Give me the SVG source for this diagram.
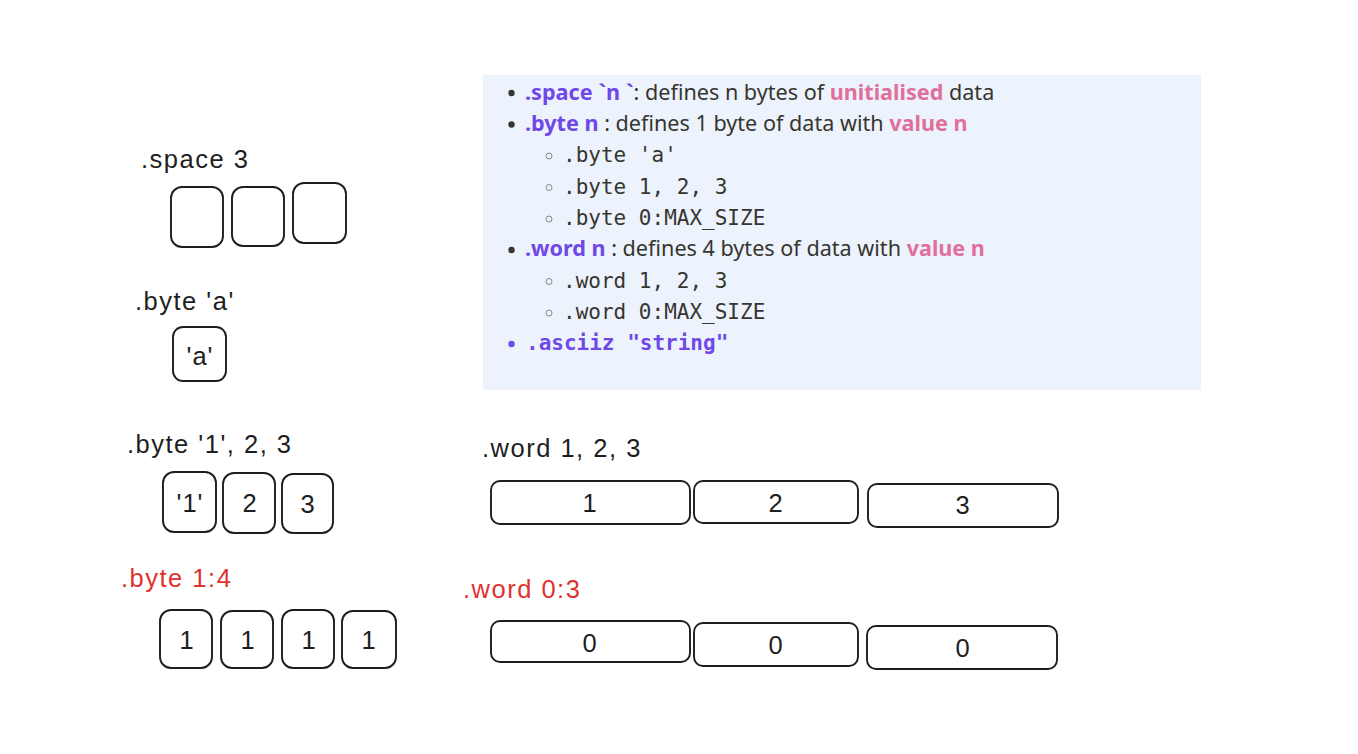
<svg xmlns="http://www.w3.org/2000/svg" width="1358" height="754" viewBox="0 0 1358 754">
<style>
.lbl{font-family:"Liberation Sans",Arial,Helvetica,sans-serif;font-size:25.5px;letter-spacing:1.5px;fill:#1e1e1e}
.red{fill:#e03131}
.val{font-family:"Liberation Sans",Arial,Helvetica,sans-serif;font-size:25.5px;letter-spacing:1px;fill:#1e1e1e;text-anchor:middle}
.cell{fill:#ffffff;stroke:#1e1e1e;stroke-width:1.9}
.body{font-family:"Noto Sans","Open Sans",sans-serif;font-size:21.6px;fill:#37352f}
.kw{font-weight:bold;fill:#7048e8}
.hl{font-weight:bold;fill:#e0709b}
.mono{font-family:"DejaVu Sans Mono","Liberation Mono",monospace;font-size:21px;fill:#37352f}
.monokw{font-family:"DejaVu Sans Mono","Liberation Mono",monospace;font-size:21px;font-weight:bold;fill:#7048e8}
.dot{fill:#37352f}
.ring{fill:none;stroke:#8a8a8a;stroke-width:1}
</style>
<rect width="1358" height="754" fill="#ffffff"/>

<g id="info-panel">
<rect x="483" y="75" width="718" height="315" fill="#ecf3fc"/>
<circle class="dot" cx="511.5" cy="93" r="3.2"/>
<text class="body" x="525" y="100"><tspan class="kw">.space `n `</tspan>: defines n bytes of <tspan class="hl">unitialised</tspan> data</text>
<circle class="dot" cx="511.5" cy="124.5" r="3.2"/>
<text class="body" x="525" y="131"><tspan class="kw">.byte n</tspan> : defines 1 byte of data with <tspan class="hl">value n</tspan></text>
<circle class="ring" cx="549" cy="156" r="3"/>
<text class="mono" x="563" y="162">.byte 'a'</text>
<circle class="ring" cx="549" cy="187.5" r="3"/>
<text class="mono" x="563" y="194">.byte 1, 2, 3</text>
<circle class="ring" cx="549" cy="219" r="3"/>
<text class="mono" x="563" y="225">.byte 0:MAX_SIZE</text>
<circle class="dot" cx="511.5" cy="250" r="3.2"/>
<text class="body" x="525" y="256"><tspan class="kw">.word n</tspan> : defines 4 bytes of data with <tspan class="hl">value n</tspan></text>
<circle class="ring" cx="549" cy="281.5" r="3"/>
<text class="mono" x="563" y="288">.word 1, 2, 3</text>
<circle class="ring" cx="549" cy="313" r="3"/>
<text class="mono" x="563" y="319">.word 0:MAX_SIZE</text>
<circle cx="511.5" cy="344" r="3.2" fill="#7048e8"/>
<text class="monokw" x="526" y="350">.asciiz "string"</text>
</g>

<g id="space3">
<text class="lbl" x="141" y="168">.space 3</text>
<rect class="cell" x="171" y="187" width="52" height="60" rx="11"/>
<rect class="cell" x="232" y="187" width="52" height="59" rx="11"/>
<rect class="cell" x="293" y="183" width="53" height="60" rx="11"/>
</g>

<g id="byte-a">
<text class="lbl" x="135" y="310">.byte 'a'</text>
<rect class="cell" x="173" y="327" width="53" height="54" rx="10"/>
<text class="val" x="200" y="365">'a'</text>
</g>

<g id="byte-123">
<text class="lbl" x="127" y="453">.byte '1', 2, 3</text>
<rect class="cell" x="163" y="472" width="53" height="60" rx="11"/>
<rect class="cell" x="223" y="473" width="52" height="60" rx="11"/>
<rect class="cell" x="282" y="474" width="51" height="59" rx="11"/>
<text class="val" x="190" y="512">'1'</text>
<text class="val" x="250" y="512">2</text>
<text class="val" x="308" y="513">3</text>
</g>

<g id="byte-1-4">
<text class="lbl red" x="121" y="587">.byte 1:4</text>
<rect class="cell" x="160" y="610" width="52" height="58" rx="11"/>
<rect class="cell" x="221" y="611" width="52" height="57" rx="11"/>
<rect class="cell" x="282" y="610" width="52" height="58" rx="11"/>
<rect class="cell" x="342" y="611" width="54" height="57" rx="11"/>
<text class="val red" x="187" y="649">1</text>
<text class="val red" x="248" y="649">1</text>
<text class="val red" x="309" y="649">1</text>
<text class="val red" x="369" y="649">1</text>
</g>

<g id="word-123">
<text class="lbl" x="482" y="457">.word 1, 2, 3</text>
<rect class="cell" x="491" y="481" width="199" height="43" rx="9"/>
<rect class="cell" x="694" y="481" width="164" height="42" rx="9"/>
<rect class="cell" x="868" y="484" width="190" height="43" rx="9"/>
<text class="val" x="590" y="512">1</text>
<text class="val" x="776" y="512">2</text>
<text class="val" x="963" y="514">3</text>
</g>

<g id="word-0-3">
<text class="lbl red" x="463" y="598">.word 0:3</text>
<rect class="cell" x="491" y="621" width="199" height="41" rx="9"/>
<rect class="cell" x="694" y="623" width="164" height="43" rx="9"/>
<rect class="cell" x="867" y="626" width="190" height="43" rx="9"/>
<text class="val red" x="590" y="652">0</text>
<text class="val red" x="776" y="654">0</text>
<text class="val red" x="963" y="657">0</text>
</g>

<g id="connectors"></g>
</svg>
